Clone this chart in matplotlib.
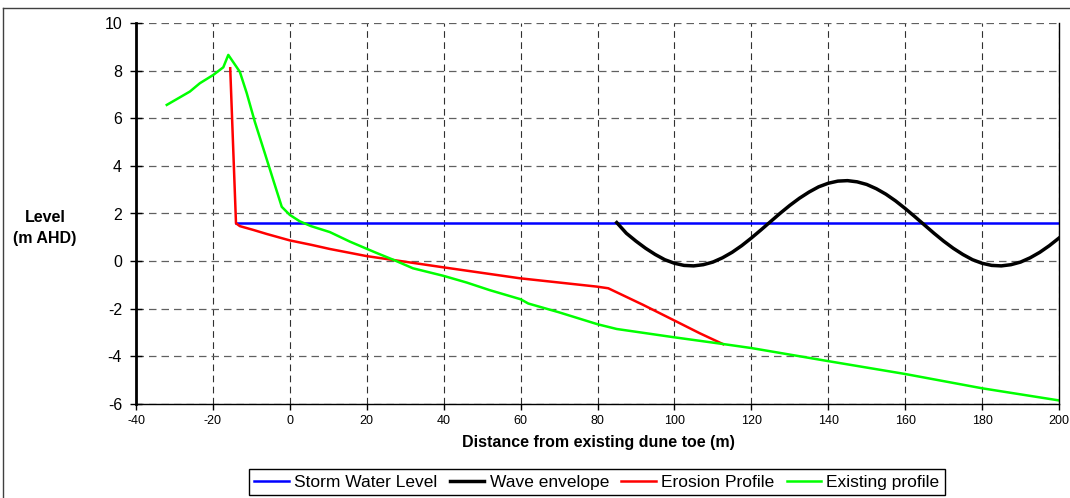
import matplotlib.pyplot as plt
from matplotlib.lines import Line2D

plt.rcParams['font.family'] = ['Liberation Sans', 'DejaVu Sans']
plt.rcParams['axes.unicode_minus'] = False

# storm water level
swl_x = [-14, 200]
swl_y = [1.6, 1.6]

# wave envelope
wave_x = [85, 87.5, 90, 92.5, 95, 97.5, 100, 102.5, 105, 107.5, 110, 112.5, 115,
          117.5, 120, 122.5, 125, 127.5, 130, 132.5, 135, 137.5, 140, 142.5, 145,
          147.5, 150, 152.5, 155, 157.5, 160, 162.5, 165, 167.5, 170, 172.5, 175,
          177.5, 180, 182.5, 185, 187.5, 190, 192.5, 195, 197.5, 200]
wave_y = [1.62, 1.17, 0.84, 0.54, 0.28, 0.06, -0.09, -0.18, -0.2, -0.15, -0.04, 0.14, 0.37,
          0.65, 0.97, 1.31, 1.66, 2.01, 2.34, 2.64, 2.9, 3.12, 3.27, 3.36, 3.38,
          3.33, 3.22, 3.04, 2.81, 2.53, 2.21, 1.87, 1.52, 1.17, 0.84, 0.54, 0.28,
          0.06, -0.09, -0.18, -0.2, -0.15, -0.04, 0.14, 0.37, 0.65, 0.97]

# erosion profile
ero_x = [-15.5, -14, -13, -9.5, -6, 0, 5.7, 10.4, 20, 26.8, 39.9, 59.8, 79.8,
         82.8, 91.9, 99.7, 106.6, 112.7]
ero_y = [8.1, 1.59, 1.47, 1.31, 1.14, 0.87, 0.68, 0.51, 0.21, 0.05, -0.26, -0.72, -1.07,
         -1.14, -1.84, -2.47, -3.03, -3.49]

# existing profile
ex_x = [-32, -26, -23.4, -19.9, -17.3, -16, -13, -11.2, -9.1, -6.5, -4.3, -2.1,
        0, 2.6, 5.5, 10.4, 15.6, 22, 27, 32, 40, 46, 52, 60, 62, 70, 76, 80, 85,
        100, 112.6, 120, 140, 160, 180, 200]
ex_y = [6.56, 7.12, 7.47, 7.82, 8.14, 8.66, 7.95, 7.05, 5.85, 4.53, 3.4, 2.28,
        1.94, 1.67, 1.47, 1.22, 0.82, 0.38, 0.05, -0.3, -0.62, -0.9, -1.22, -1.6, -1.78,
        -2.15, -2.45, -2.65, -2.85, -3.2, -3.48, -3.65, -4.2, -4.74, -5.34, -5.85]

fig = plt.figure(figsize=(10.7, 4.98), dpi=100)
ax = fig.add_axes([136 / 1070, 1 - 404 / 498, (1059 - 136) / 1070, (404 - 23) / 498])

ax.plot(swl_x, swl_y, color='#0000ff', lw=1.8, label='Storm Water Level')
ax.plot(wave_x, wave_y, color='black', lw=2.5, label='Wave envelope')
ax.plot(ero_x, ero_y, color='#ff0000', lw=1.8, label='Erosion Profile')
ax.plot(ex_x, ex_y, color='#00ff00', lw=1.8, label='Existing profile')

ax.set_xlim(-40, 200)
ax.set_ylim(-6, 10)
ax.set_xticks(range(-40, 201, 20))
ax.set_yticks(range(-6, 11, 2))
ax.xaxis.grid(True, color='#303030', linestyle=(0, (6, 4)), lw=0.8)
ax.yaxis.grid(True, color='#606060', linestyle=(0, (6, 4)), lw=0.9)
ax.set_axisbelow(True)

ax.spines['top'].set_visible(False)
ax.spines['left'].set_linewidth(2)
ax.spines['bottom'].set_linewidth(1)
ax.spines['right'].set_linewidth(1)
ax.tick_params(axis='y', direction='inout', length=8, width=1, labelsize=11.5, pad=6)
ax.tick_params(axis='x', direction='out', length=4, width=1, labelsize=9, pad=4)

fig.text(45 / 1070, 1 - 228 / 498, 'Level\n(m AHD)', ha='center', va='center',
         fontweight='bold', fontsize=11.5, linespacing=1.45)
fig.text(598 / 1070, 1 - 443 / 498, 'Distance from existing dune toe (m)', ha='center',
         va='center', fontweight='bold', fontsize=11.5)

leg = fig.legend(loc='lower center', bbox_to_anchor=(597 / 1070, 3 / 498), ncol=4,
                 fontsize=12.5, handlelength=2.0, handletextpad=0.3, columnspacing=0.7,
                 borderpad=0.3, borderaxespad=0, fancybox=False, edgecolor='black',
                 framealpha=1)
leg.get_frame().set_linewidth(1)

# outer border of the chart area
fig.add_artist(Line2D([3 / 1070, 1], [1 - 8 / 498, 1 - 8 / 498], color='#404040', lw=1))
fig.add_artist(Line2D([3 / 1070, 3 / 1070], [0, 1 - 8 / 498], color='#404040', lw=1))

fig.savefig('out.png', dpi=100)
